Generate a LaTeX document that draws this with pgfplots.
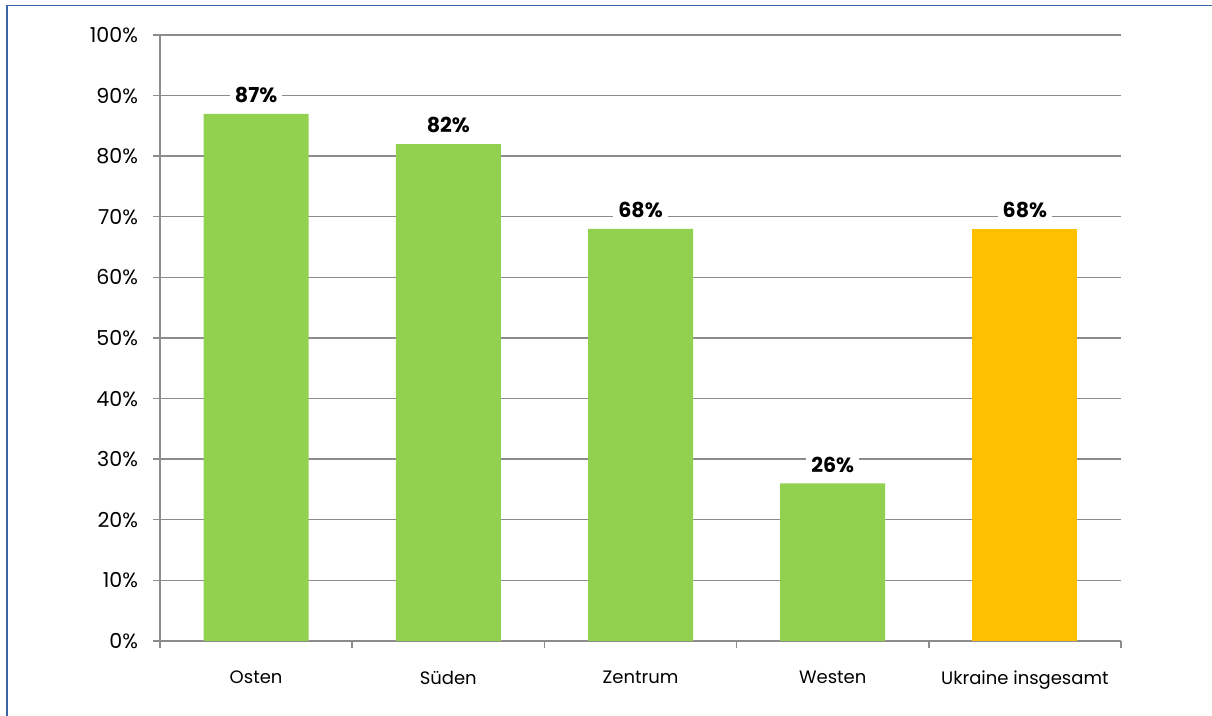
\documentclass[border=0pt]{standalone}
\usepackage{fontspec}
\setmainfont{Poppins}
\usepackage{pgfplots}
\pgfplotsset{compat=1.18}
\definecolor{gridgray}{RGB}{140,140,140}
\definecolor{bargreen}{RGB}{146,208,80}
\definecolor{barorange}{RGB}{255,192,0}
\definecolor{framecol}{RGB}{58,100,168}
\begin{document}
\begin{tikzpicture}[x=0.5pt,y=0.5pt]
\begin{axis}[
  at={(0,0)}, anchor=south west,
  width=480.5pt, height=303pt, scale only axis,
  xmin=-0.5, xmax=4.5, ymin=0, ymax=100,
  axis x line*=bottom, axis y line*=left,
  axis line style={draw=gridgray, line width=0.7pt, -},
  ytick={0,10,...,100},
  yticklabels={0\%,10\%,20\%,30\%,40\%,50\%,60\%,70\%,80\%,90\%,100\%},
  ymajorgrids, grid style={draw=gridgray, line width=0.7pt},
  xtick={0,1,2,3,4},
  xticklabels={Osten,Süden,Zentrum,Westen,Ukraine insgesamt},
  minor xtick={-0.5,0.5,1.5,2.5,3.5,4.5},
  tick align=outside,
  major tick length=3.5pt, minor tick length=3.5pt,
  major x tick style={draw=none},
  minor x tick style={draw=gridgray, line width=0.7pt},
  major y tick style={draw=gridgray, line width=0.7pt},
  tick label style={font=\fontsize{9}{11}\selectfont, text=black},
  yticklabel style={font=\fontsize{10.3}{12}\selectfont, xshift=-4pt},
  xticklabel style={yshift=-8pt},
  /pgf/number format/assume math mode=true,
  ybar, bar width=52.5pt, bar shift=0pt,
  nodes near coords={\pgfmathprintnumber{\pgfplotspointmeta}\%},
  nodes near coords style={anchor=center, yshift=9.5pt, fill=white,
    inner xsep=2.5pt, inner ysep=1pt, font=\bfseries\fontsize{10.3}{12}\selectfont, text=black},
]
\addplot[fill=bargreen, draw=none] coordinates {(0,87) (1,82) (2,68) (3,26)};
\addplot[fill=barorange, draw=none] coordinates {(4,68)};
\end{axis}
\draw[framecol, line width=0.8pt] (-153,-75) -- (-153,635.5) -- (1052,635.5);
\pgfresetboundingbox
\path[use as bounding box] (-160,-75) rectangle (1052,641);
\end{tikzpicture}
\end{document}
